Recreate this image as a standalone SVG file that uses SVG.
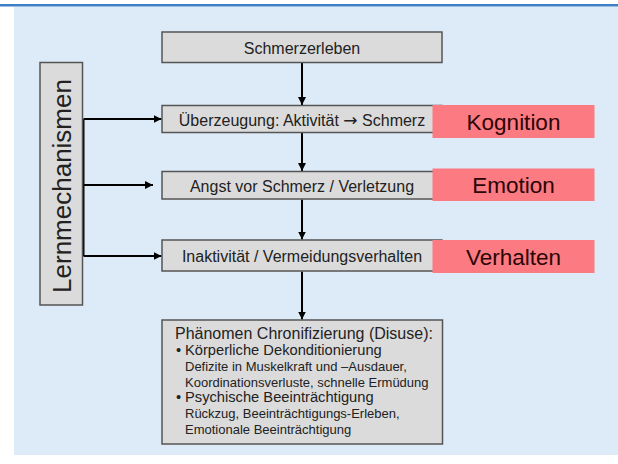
<svg xmlns="http://www.w3.org/2000/svg" width="618" height="464" viewBox="0 0 618 464">
<defs>
<style>
.bg{fill:#ddeaf7}
.box{fill:#dbdbdb;stroke:#555;stroke-width:1.5}
.pink{fill:#fc7a82}
.t{font-family:"Liberation Sans",Arial,sans-serif;fill:#222;font-size:16px;text-anchor:middle}
.p{font-family:"Liberation Sans",Arial,sans-serif;fill:#2a0505;font-size:22.5px;text-anchor:middle}
.l{font-family:"Liberation Sans",Arial,sans-serif;fill:#222}
.c{stroke:#000;stroke-width:2;fill:none}
.arr{font-family:"DejaVu Sans",sans-serif;font-size:17px}
</style>
<marker id="ah" viewBox="0 0 10 10" refX="10" refY="5" markerWidth="8" markerHeight="8" markerUnits="userSpaceOnUse" orient="auto">
<path d="M0,0 L10,5 L0,10 z" fill="#000"/>
</marker>
</defs>
<rect x="0" y="0" width="618" height="464" fill="#fff"/>
<rect class="bg" x="14" y="7" width="604" height="448"/>
<rect x="0" y="4" width="618" height="2.5" fill="#3d7fc6"/>

<g id="connectors">
<line class="c" x1="302" y1="63" x2="302" y2="105" marker-end="url(#ah)"/>
<line class="c" x1="302" y1="132.5" x2="302" y2="171" marker-end="url(#ah)"/>
<line class="c" x1="302" y1="199.5" x2="302" y2="239.5" marker-end="url(#ah)"/>
<line class="c" x1="302" y1="271.5" x2="302" y2="319.5" marker-end="url(#ah)"/>
<line class="c" x1="83.5" y1="119" x2="83.5" y2="256"/>
<line class="c" x1="83.5" y1="119" x2="161.5" y2="119" marker-end="url(#ah)"/>
<line class="c" x1="83.5" y1="185" x2="153" y2="185" marker-end="url(#ah)"/>
<line class="c" x1="83.5" y1="256" x2="161.5" y2="256" marker-end="url(#ah)"/>
</g>

<g id="lernmechanismen">
<rect class="box" x="40" y="62.5" width="42.5" height="242.5"/>
<text class="l" font-size="26" text-anchor="middle" transform="translate(71,186) rotate(-90)">Lernmechanismen</text>
</g>

<g id="schmerzerleben">
<rect class="box" x="162" y="32" width="280" height="30.5"/>
<text class="t" x="302" y="54">Schmerzerleben</text>
</g>

<g id="ueberzeugung">
<rect class="box" x="162" y="105.5" width="280" height="27"/>
<text class="t" x="302" y="125.5">Überzeugung: Aktivität <tspan class="arr">→</tspan> Schmerz</text>
</g>

<g id="kognition">
<rect class="pink" x="432.5" y="105" width="162" height="33"/>
<text class="p" x="513.5" y="129.5">Kognition</text>
</g>

<g id="angst">
<rect class="box" x="162" y="171.5" width="280" height="27.5"/>
<text class="t" x="302" y="191.5">Angst vor Schmerz / Verletzung</text>
</g>

<g id="emotion">
<rect class="pink" x="432.5" y="168.5" width="162" height="32.5"/>
<text class="p" x="513.5" y="192.5">Emotion</text>
</g>

<g id="inaktivitaet">
<rect class="box" x="162" y="240" width="280" height="31"/>
<text class="t" x="302" y="261.5">Inaktivität / Vermeidungsverhalten</text>
</g>

<g id="verhalten">
<rect class="pink" x="432.5" y="240" width="162" height="33"/>
<text class="p" x="513.5" y="264.5">Verhalten</text>
</g>

<g id="chronifizierung">
<rect class="box" x="162" y="320" width="280.5" height="124"/>
<text class="l" font-size="16" x="175" y="338.5">Phänomen Chronifizierung (Disuse):</text>
<text class="l" font-size="14.7" x="176" y="355">•</text>
<text class="l" font-size="14.7" x="185" y="355">Körperliche Dekonditionierung</text>
<text class="l" font-size="13" x="185" y="371">Defizite in Muskelkraft und –Ausdauer,</text>
<text class="l" font-size="13" x="185" y="386.5">Koordinationsverluste, schnelle Ermüdung</text>
<text class="l" font-size="14.7" x="176" y="402">•</text>
<text class="l" font-size="14.7" x="185" y="402">Psychische Beeinträchtigung</text>
<text class="l" font-size="13" x="185" y="418">Rückzug, Beeinträchtigungs-Erleben,</text>
<text class="l" font-size="13" x="185" y="433.5">Emotionale Beeinträchtigung</text>
</g>
</svg>
